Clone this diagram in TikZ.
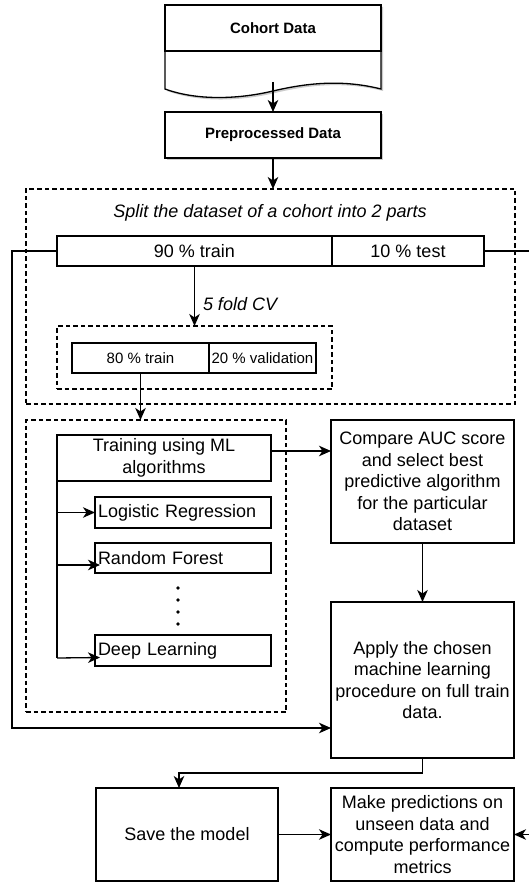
\documentclass[tikz,border=0pt]{standalone}
\usepackage{fontspec}
\setmainfont{Liberation Sans}
\usetikzlibrary{arrows.meta,shadows,calc}

\begin{document}
\begin{tikzpicture}[x=1pt,y=-1pt,
  every node/.style={inner sep=0pt, outer sep=0pt},
  txt/.style={font=\fontsize{18}{21.6}\selectfont},
  box/.style={draw, line width=1.3pt, fill=white, align=center, txt},
  headbox/.style={draw, line width=1.3pt, fill=white, align=center,
    font=\fontsize{15}{18}\selectfont\bfseries, minimum width=216pt, minimum height=46pt},
  smallbox/.style={draw, line width=1.3pt, fill=white, align=center,
    font=\fontsize{15}{18}\selectfont, minimum height=30pt},
  listbox/.style={draw, line width=1.3pt, fill=white, align=left, text width=170pt,
    inner xsep=3pt, minimum width=176pt, minimum height=31pt, txt},
  group/.style={draw, line width=1.2pt, dash pattern=on 4.5pt off 3pt},
  link/.style={line width=1.3pt},
  arr/.style={link, -{Stealth[length=12pt,width=10.5pt,inset=3.5pt]}},
  shade/.style={drop shadow={shadow xshift=2pt, shadow yshift=-2pt, fill=black, opacity=0.2}}
]
\useasboundingbox (0,0) rectangle (528,882);

% dashed groups
\node[group, minimum width=489pt, minimum height=215pt] (splitbox) at (270.5,296.5) {};
\node[group, minimum width=275pt, minimum height=63pt] (cvbox) at (194.5,357.5) {};
\node[group, minimum width=260pt, minimum height=292pt] (mlbox) at (156,566) {};

% cohort data document shape
\fill[black!20] (167,7) -- (383,7) -- (383,91) .. controls (347,82) and (313,84) .. (275,93)
  .. controls (237,102) and (197,102) .. (167,91) -- cycle;
\draw[line width=1.3pt, fill=white] (165,5) -- (381,5) -- (381,89) .. controls (345,80) and (311,82) .. (273,91)
  .. controls (235,100) and (195,100) .. (165,89) -- cycle;
\node[headbox] (cohort) at (273,28) {Cohort Data};
\coordinate (docend) at (273,82);

\node[headbox, shade] (prep) at (273,135) {Preprocessed Data};

% split of the cohort
\node[txt, font=\fontsize{18}{21.6}\selectfont\itshape] (splitlabel) at (270,213) {Split the dataset of a cohort into 2 parts};
\node[box, minimum width=275pt, minimum height=30pt] (train90) at (194.5,251) {90 \% train};
\node[box, minimum width=152pt, minimum height=30pt] (test10) at (408,251) {10 \% test};
\node[smallbox, minimum width=137pt] (train80) at (140.5,358) {80 \% train};
\node[smallbox, minimum width=107pt] (val20) at (262.5,358) {20 \% validation};

% model training
\node[box, minimum width=214pt, minimum height=46pt] (training) at (164,458) {Training using ML\\algorithms};
\node[listbox] (lr) at (183,512.5) {Logistic Regression};
\node[listbox, minimum height=30pt] (rf) at (183,558) {Random Forest};
\node[listbox] (dl) at (183,650.5) {Deep Learning};
\foreach \yy in {588,600,612,624} \fill (178,\yy) circle (1.8pt);

\node[box, minimum width=183pt, minimum height=123pt] (compare) at (422.5,481.5)
  {Compare AUC score\\and select best\\predictive algorithm\\for the particular\\dataset};
\node[box, minimum width=183pt, minimum height=156pt] (apply) at (422.5,680)
  {Apply the chosen\\machine learning\\procedure on full train\\data.};
\node[box, minimum width=182pt, minimum height=93pt] (save) at (187,834.5) {Save the model};
\node[box, minimum width=183pt, minimum height=93pt] (predict) at (422.5,834.5)
  {Make predictions on\\unseen data and\\compute performance\\metrics};

% connectors
\draw[arr] (docend) -- (prep.north);
\draw[arr] (prep.south) -- (prep.south |- splitbox.north);
\draw[arr] (train90.south) -- (cvbox.north);
\node[txt, font=\fontsize{18}{21.6}\selectfont\itshape, anchor=west] (cvlabel) at (203,304) {5 fold CV};
\draw[arr] (train80.south) -- (train80.south |- mlbox.north);

\draw[link] (training.south west) -- ++(0,177) coordinate (branchend);
\draw[arr] (training.south west |- lr.west) -- (lr.west);
\coordinate (rfin) at ([xshift=5pt,yshift=-7pt]rf.west);
\coordinate (dlin) at ([xshift=5pt,yshift=-7pt]dl.west);
\draw[arr] (training.south west |- rfin) -- (rfin);
\draw[arr] (branchend) -- (dlin);

\draw[arr] ([yshift=7pt]training.east) -- ([yshift=7pt]training.east -| compare.west);
\draw[arr] (compare.south) -- (apply.north);

\draw[arr] (train90.west) -- ++(-45,0) |- ([yshift=-48pt]apply.west);
\draw[arr] (test10.east) -- ++(60,0) |- (predict.east);

\draw[arr] (apply.south) -- ++(0,15) -| ([xshift=-8pt]save.north);
\draw[arr] (save.east) -- (predict.west);
\end{tikzpicture}
\end{document}
